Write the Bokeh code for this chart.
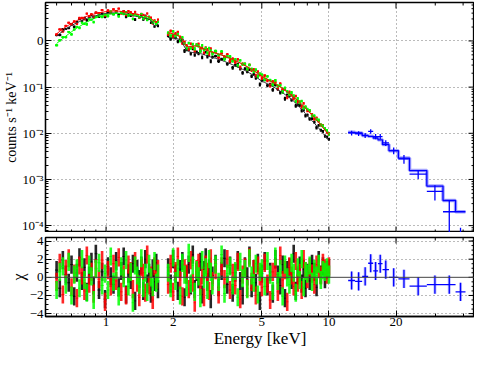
import numpy as np
from bokeh.plotting import figure
from bokeh.layouts import column
from bokeh.models import FixedTicker, Span, Range1d, BasicTickFormatter
from bokeh.embed import file_html
from bokeh.resources import INLINE

# ---------------- data ----------------
energy_low = [0.60, 0.62, 0.64, 0.66, 0.68, 0.70, 0.72, 0.74, 0.76, 0.78, 0.80, 0.82, 0.84, 0.86, 0.88,
              0.90, 0.93, 0.96, 0.99, 1.02, 1.05, 1.08, 1.11, 1.14, 1.17, 1.20, 1.23, 1.26, 1.29, 1.32,
              1.35, 1.38, 1.41, 1.44, 1.47, 1.50, 1.53, 1.56, 1.59, 1.62, 1.65, 1.68, 1.71]
energy_high = [1.90, 1.95, 2.00, 2.05, 2.10, 2.15, 2.20, 2.25, 2.30, 2.35, 2.40, 2.45, 2.50, 2.55, 2.60,
               2.65, 2.70, 2.75, 2.80, 2.85, 2.90, 2.95, 3.00,
               3.1, 3.2, 3.3, 3.4, 3.5, 3.6, 3.7, 3.8, 3.9, 4.0, 4.1, 4.2, 4.3, 4.4, 4.5, 4.6, 4.7, 4.8, 4.9, 5.0,
               5.15, 5.3, 5.45, 5.6, 5.75, 5.9, 6.05, 6.2, 6.35, 6.5, 6.65, 6.8, 6.95, 7.1, 7.25, 7.4, 7.55,
               7.7, 7.85, 8.0,
               8.2, 8.4, 8.6, 8.8, 9.0, 9.2, 9.4, 9.6, 9.8, 10.0]

black_model_low = [1.28, 1.45, 1.62, 1.80, 1.97, 2.15, 2.32, 2.48, 2.63, 2.78, 2.95, 3.08, 3.20, 3.32, 3.42,
                   3.52, 3.66, 3.78, 3.88, 3.95, 4.00, 4.02, 4.02, 3.98, 3.92, 3.85, 3.76, 3.68, 3.60, 3.52,
                   3.45, 3.38, 3.32, 3.26, 3.20, 3.14, 3.06, 2.96, 2.78, 2.45, 2.12, 2.12, 2.30]
red_model_low = [1.42, 1.62, 1.82, 2.02, 2.20, 2.40, 2.58, 2.76, 2.93, 3.10, 3.28, 3.42, 3.56, 3.68, 3.80,
                 3.90, 4.05, 4.18, 4.28, 4.36, 4.42, 4.45, 4.45, 4.42, 4.36, 4.28, 4.20, 4.10, 4.02, 3.94,
                 3.86, 3.78, 3.70, 3.63, 3.56, 3.50, 3.42, 3.32, 3.15, 2.85, 2.60, 2.60, 2.75]
green_model_low = [0.88, 1.00, 1.13, 1.27, 1.42, 1.58, 1.74, 1.90, 2.06, 2.22, 2.40, 2.56, 2.72, 2.88, 3.02,
                   3.15, 3.35, 3.52, 3.66, 3.76, 3.84, 3.90, 3.92, 3.92, 3.90, 3.86, 3.80, 3.74, 3.68, 3.62,
                   3.56, 3.50, 3.44, 3.38, 3.32, 3.26, 3.18, 3.08, 2.92, 2.66, 2.42, 2.40, 2.52]

black_model_high = [1.19, 1.17, 1.15, 1.13, 1.11, 1.06, 0.92, 0.74, 0.63, 0.59, 0.57, 0.56, 0.555, 0.55, 0.54,
                    0.53, 0.52, 0.505, 0.49, 0.475, 0.46, 0.45, 0.44,
                    0.42, 0.40, 0.38, 0.36, 0.34, 0.322, 0.305, 0.288, 0.272, 0.257, 0.243, 0.229, 0.215, 0.202,
                    0.19, 0.178, 0.166, 0.155, 0.144, 0.134,
                    0.126, 0.118, 0.110, 0.102, 0.0955, 0.088, 0.0817, 0.0759, 0.0692, 0.0638, 0.0589, 0.0537,
                    0.0494, 0.0447, 0.0407, 0.0363, 0.0327, 0.0295, 0.0266, 0.024,
                    0.0211, 0.0186, 0.0166, 0.0146, 0.0129, 0.0114, 0.0100, 0.0089, 0.00785, 0.0069]
red_model_high = [1.50, 1.47, 1.42, 1.37, 1.32, 1.24, 1.08, 0.88, 0.77, 0.75, 0.755, 0.77, 0.78, 0.775, 0.765,
                  0.735, 0.70, 0.665, 0.64, 0.62, 0.60, 0.585, 0.57,
                  0.545, 0.518, 0.492, 0.467, 0.442, 0.418, 0.395, 0.373, 0.352, 0.332, 0.312, 0.293, 0.275,
                  0.258, 0.242, 0.226, 0.211, 0.197, 0.184, 0.171,
                  0.158, 0.147, 0.136, 0.126, 0.117, 0.108, 0.100, 0.0925, 0.085, 0.078, 0.072, 0.0663,
                  0.061, 0.0557, 0.0508, 0.0463, 0.0421, 0.0382, 0.0347, 0.0315,
                  0.0279, 0.0247, 0.0219, 0.0193, 0.017, 0.015, 0.0132, 0.0117, 0.0103, 0.0091]
green_model_high = [1.45, 1.42, 1.38, 1.34, 1.29, 1.22, 1.06, 0.86, 0.76, 0.74, 0.75, 0.77, 0.78, 0.78, 0.77,
                    0.74, 0.70, 0.665, 0.64, 0.62, 0.60, 0.585, 0.57,
                    0.545, 0.52, 0.495, 0.47, 0.445, 0.42, 0.398, 0.376, 0.355, 0.335, 0.315, 0.296, 0.278,
                    0.26, 0.244, 0.228, 0.213, 0.199, 0.186, 0.173,
                    0.160, 0.149, 0.138, 0.128, 0.119, 0.110, 0.102, 0.0945, 0.087, 0.080, 0.0738, 0.068,
                    0.0625, 0.057, 0.052, 0.0473, 0.043, 0.039, 0.0355, 0.0322,
                    0.0285, 0.0252, 0.0223, 0.0197, 0.0174, 0.0154, 0.0136, 0.0120, 0.0106, 0.0093]

black_chi_low = [0.8, -1.2, 1.9, 0.3, -0.6, 1.4, -2.1, 0.5, 2.2, -0.4, 1.1, -1.6, 0.2, 1.7, -0.9, 2.6, -1.4,
                 0.6, -2.4, 1.2, 0.1, -0.8, 1.8, -1.1, 0.7, 2.3, -1.9, 0.4, -0.3, 1.5, -2.6, 0.9, -0.2, 1.3,
                 -1.5, 2.0, -0.7, 0.5, -1.8, 1.0, -0.5, 1.6, -1.3]
red_chi_low = [-0.5, 1.6, -1.9, 0.9, 2.1, -1.1, 0.4, -2.3, 1.3, 0.2, -1.5, 2.4, -0.7, 0.6, -1.8, 1.0, -0.2,
               1.9, -2.7, 0.8, -1.0, 1.5, -0.4, 2.2, -1.6, 0.3, -2.0, 1.4, 0.7, -1.3, 1.8, -0.6, -2.2, 1.1,
               0.5, -1.7, 2.5, -0.9, 0.2, -2.5, 1.2, -0.3, 0.9]
green_chi_low = [-1.4, 0.6, 1.2, -0.8, 1.7, -2.0, 0.3, 1.0, -1.2, 2.0, -0.3, -1.7, 1.4, 0.1, -2.5, 0.9, 1.6,
                 -0.9, 0.4, -1.4, 2.3, -0.5, 0.8, -2.1, 1.2, -0.1, 1.9, -1.0, 0.6, -2.8, 1.3, 0.2, -0.8, 2.1,
                 -1.2, 0.5, -1.6, 1.5, 0.0, -1.1, 1.8, -0.6, 0.4]

black_chi_high = [1.1, -0.7, 2.0, 0.4, -1.5, 0.9, 1.8, -2.2, 0.3, 1.4, -0.9, 2.5, -1.3, 0.6, -0.2, 1.7, -1.9,
                  0.8, 2.2, -0.5, 1.0, -2.4, 0.2,
                  1.5, -1.1, 0.7, 2.1, -0.8, 1.3, -1.7, 0.5, 1.9, -0.4, -2.0, 1.2, 0.1, 2.4, -1.2, 0.9, -0.6,
                  1.6, -2.6, 0.4,
                  1.8, -1.0, 0.6, -1.8, 2.0, 0.3, -0.9, 1.4, -2.3, 0.8, 1.1, -0.3, 2.6, -1.5, 0.2, 1.3, -0.7,
                  0.9, -1.2, 0.5,
                  -0.4, 1.5, 0.6, -1.1, 1.9, 0.3, 1.2, -0.2, 0.8, 1.0]
red_chi_high = [-0.8, 1.5, -1.6, 0.7, 2.3, -0.3, -2.1, 1.0, 0.4, -1.3, 1.9, -0.6, -2.8, 0.9, 1.6, -1.0, 0.2,
                -2.2, 1.4, 0.6, -1.5, 2.1, -0.4,
                0.8, -1.9, 1.2, -0.2, 2.0, -1.4, 0.5, -0.9, 1.7, -2.4, 0.3, 1.1, -1.2, 2.2, -0.5, 0.9, -2.0,
                1.3, 0.1, -1.1,
                1.6, -0.7, -2.5, 0.6, 1.0, -1.6, 2.4, -0.3, 0.8, -2.7, 1.2, 0.2, -1.0, 1.8, -0.6, 0.5, -1.4,
                2.0, 0.7, -0.2,
                1.1, 0.4, -0.8, 1.4, 0.9, 0.2, 1.6, 1.0, 0.3, 1.2]
green_chi_high = [0.5, -1.2, 2.2, -0.4, 1.0, -2.0, 1.6, 0.3, -1.1, 2.7, -0.7, 1.3, -1.6, 0.8, 0.1, -2.3, 1.9,
                  -0.2, 1.1, -1.4, 2.0, 0.6, -0.9,
                  1.4, -0.5, 2.5, -1.8, 0.4, 1.2, -0.9, 0.7, -2.2, 1.7, -0.1, 0.9, -1.3, 2.1, 0.2, -0.6, 1.5,
                  -1.9, 0.6, 1.0,
                  -1.0, 1.8, 0.3, -1.5, 2.3, -0.4, 0.9, -2.1, 1.4, 0.0, -0.8, 1.6, 0.5, -1.7, 1.1, -0.3, 2.0,
                  -1.1, 0.7, 0.4,
                  1.3, -0.5, 0.9, 0.2, 1.5, -0.3, 0.8, 0.6, 1.1, 0.3]

blue_edges = [12.2, 13.1, 14.1, 15.0, 15.8, 16.6, 17.4, 18.6, 20.5, 23.0, 27.5, 32.5, 37.0, 41.0]
blue_flux = [0.0102, 0.0099, 0.0090, 0.0110, 0.0085, 0.0085, 0.0062, 0.0042, 0.0028, 0.0013, 0.00055,
             0.00020, 0.00003]
blue_sigma = [0.0012, 0.0012, 0.0011, 0.0012, 0.0011, 0.0011, 0.0009, 0.0007, 0.0006, 0.00028, 0.0002,
              0.00015, 0.00006]
blue_model = [0.0105, 0.0102, 0.0089, 0.0086, 0.0079, 0.0072, 0.0057, 0.0042, 0.0029, 0.00156, 0.00072,
              0.00035, 0.00020]
blue_chi = [-0.35, -0.45, 0.1, 1.55, 0.7, 1.5, 0.85, 0.0, -0.17, -0.97, -0.8, -0.8, -1.6]

x_major = [1, 2, 5, 10, 20]
x_labels = ["1", "2", "5", "10", "20"]
x_minor = [0.6, 0.7, 0.8, 0.9, 3, 4, 6, 7, 8, 9, 30, 40]
y_major = [1e-4, 1e-3, 1e-2, 1e-1, 1.0]
y_labels = ["10\u207b\u2074", "10\u207b\u00b3", "10\u207b\u00b2", "10\u207b\u00b9", "0"]
chi_major = [-4, -2, 0, 2, 4]
chi_labels = ["\u22124", "\u22122", "0", "2", "4"]

# ---------------- style ----------------
FONT = "Liberation Serif"
W = 474
H_TOP = 232
H_BOT = 118
LEFT = 36
X_RANGE = (0.535, 45.0)
Y_RANGE_TOP = (7.1e-5, 6.8)
Y_RANGE_BOT = (-4.32, 4.39)
FRAC_LOW = 0.06
FRAC_HIGH = 0.08

y_minor = [m * 10.0 ** k for k in range(-5, 1) for m in range(2, 10)
           if Y_RANGE_TOP[0] < m * 10.0 ** k < Y_RANGE_TOP[1]]
chi_minor = [v / 2 for v in range(-8, 9)]


def bin_bounds(e):
    e = np.asarray(e, float)
    mid = np.sqrt(e[:-1] * e[1:])
    lo = np.concatenate([[e[0] ** 2 / mid[0]], mid])
    hi = np.concatenate([mid, [e[-1] ** 2 / mid[-1]]])
    return lo, hi


def style_axis(ax):
    ax.axis_line_color = "black"
    ax.axis_line_width = 1.3
    ax.major_tick_line_color = "black"
    ax.minor_tick_line_color = "black"
    ax.major_tick_in = 6
    ax.major_tick_out = 0
    ax.minor_tick_in = 3
    ax.minor_tick_out = 0
    ax.major_label_text_font = FONT
    ax.major_label_text_color = "black"
    ax.major_label_text_font_size = "13px"
    ax.major_label_standoff = 2
    ax.axis_label_text_font = FONT
    ax.axis_label_text_font_style = "normal"
    ax.axis_label_text_color = "black"
    ax.axis_label_standoff = 0


def style_grid(g):
    g.grid_line_color = "#777777"
    g.grid_line_dash = "1 3"
    g.grid_line_width = 1


def edge_ticks(p, values, fixed, vertical, size):
    # tick marks on the frame edge (half of each dash is clipped by the frame)
    if vertical:
        p.scatter(x=values, y=[fixed] * len(values), marker="dash", angle=np.pi / 2,
                  size=size, line_color="black", line_width=1)
    else:
        p.scatter(x=[fixed] * len(values), y=values, marker="dash", angle=0,
                  size=size, line_color="black", line_width=1)


# ---------------- top panel ----------------
top = figure(width=W, height=H_TOP, x_axis_type="log", y_axis_type="log", x_axis_location=None,
             x_range=Range1d(*X_RANGE), y_range=Range1d(*Y_RANGE_TOP),
             output_backend="svg", toolbar_location=None,
             min_border_left=LEFT, min_border_right=0, min_border_top=2, min_border_bottom=0)
top.outline_line_color = "black"
top.outline_line_width = 1.3
top.background_fill_color = "white"
top.border_fill_color = "white"
top.yaxis.ticker = FixedTicker(ticks=y_major, minor_ticks=y_minor)
top.yaxis.major_label_overrides = dict(zip(y_major, y_labels))
top.yaxis.axis_label = "counts s\u207b\u00b9 keV\u207b\u00b9"
for ax in top.yaxis:
    style_axis(ax)
top.yaxis.axis_label_text_font_size = "14px"
top.xgrid.ticker = FixedTicker(ticks=x_major)
top.ygrid.ticker = FixedTicker(ticks=y_major)
style_grid(top.xgrid[0])
style_grid(top.ygrid[0])

# ---------------- bottom panel ----------------
bot = figure(width=W, height=H_BOT, x_axis_type="log",
             x_range=top.x_range, y_range=Range1d(*Y_RANGE_BOT),
             output_backend="svg", toolbar_location=None,
             min_border_left=LEFT, min_border_right=0, min_border_top=5, min_border_bottom=0)
bot.outline_line_color = "black"
bot.outline_line_width = 1.3
bot.background_fill_color = "white"
bot.border_fill_color = "white"
bot.xaxis.ticker = FixedTicker(ticks=x_major, minor_ticks=x_minor)
bot.xaxis.formatter = BasicTickFormatter()
bot.xaxis.major_label_overrides = dict(zip(x_major, x_labels))
bot.xaxis.axis_label = "Energy [keV]"
bot.yaxis.ticker = FixedTicker(ticks=chi_major, minor_ticks=chi_minor)
bot.yaxis.major_label_overrides = dict(zip(chi_major, chi_labels))
bot.yaxis.axis_label = "\u03c7"
for ax in list(bot.xaxis) + list(bot.yaxis):
    style_axis(ax)
bot.xaxis.major_label_standoff = 1
bot.xaxis.axis_label_text_font_size = "17px"
bot.yaxis.axis_label_text_font_size = "16px"
bot.xgrid.ticker = FixedTicker(ticks=x_major)
bot.ygrid.ticker = FixedTicker(ticks=[-4, -2, 2, 4])
style_grid(bot.xgrid[0])
style_grid(bot.ygrid[0])
bot.add_layout(Span(location=0, dimension="width", line_color="#444444", line_width=1))

# ---------------- draw instruments ----------------
instruments = [
    ("black", black_model_low, black_model_high, black_chi_low, black_chi_high),
    ("#ff0000", red_model_low, red_model_high, red_chi_low, red_chi_high),
    ("#00ff00", green_model_low, green_model_high, green_chi_low, green_chi_high),
]
segments = [(energy_low, FRAC_LOW), (energy_high, FRAC_HIGH)]

for color, m_low, m_high, c_low, c_high in instruments:
    for (energies, frac), model, chi in zip(segments, (m_low, m_high), (c_low, c_high)):
        e = np.asarray(energies, float)
        m = np.asarray(model, float)
        c = np.asarray(chi, float)
        lo, hi = bin_bounds(e)
        d = m * (1 + frac * c)
        s = m * frac
        top.segment(x0=e, y0=d - s, x1=e, y1=d + s, line_color=color, line_width=2.0)
        top.segment(x0=lo, y0=d, x1=hi, y1=d, line_color=color, line_width=1.8)
        bot.segment(x0=e, y0=c - 1, x1=e, y1=c + 1, line_color=color, line_width=2.6, line_alpha=0.85)
        bot.segment(x0=lo, y0=c, x1=hi, y1=c, line_color=color, line_width=1.0, line_alpha=0.85)

for idx in (0, 2, 1):
    color, m_low, m_high, _, _ = instruments[idx]
    for (energies, frac), model in zip(segments, (m_low, m_high)):
        top.line(energies, model, line_color=color if idx else "#333333", line_width=1.0)

# blue instrument
be = np.asarray(blue_edges, float)
blo, bhi = be[:-1], be[1:]
bc = np.sqrt(blo * bhi)
bf = np.asarray(blue_flux, float)
bs = np.asarray(blue_sigma, float)
bchi = np.asarray(blue_chi, float)
step_x, step_y = [], []
for i, mv in enumerate(blue_model):
    step_x += [blue_edges[i], blue_edges[i + 1]]
    step_y += [mv, mv]
top.line(step_x, step_y, line_color="#8080ff", line_width=3.5, line_alpha=0.7)
top.line(step_x, step_y, line_color="#0000ff", line_width=1.3)
top.segment(x0=bc, y0=np.maximum(bf - bs, 1e-7), x1=bc, y1=bf + bs, line_color="#0000ff", line_width=1.3)
top.segment(x0=blo, y0=bf, x1=bhi, y1=bf, line_color="#0000ff", line_width=1.3)
bot.segment(x0=bc, y0=bchi - 1, x1=bc, y1=bchi + 1, line_color="#8080ff", line_width=3, line_alpha=0.5)
bot.segment(x0=bc, y0=bchi - 1, x1=bc, y1=bchi + 1, line_color="#0000ff", line_width=1.3)
bot.segment(x0=blo, y0=bchi, x1=bhi, y1=bchi, line_color="#0000ff", line_width=1.3)

# mirrored tick marks on the frame edges
for p, ylo, yhi in ((top, Y_RANGE_TOP[0], Y_RANGE_TOP[1]), (bot, Y_RANGE_BOT[0], Y_RANGE_BOT[1])):
    edge_ticks(p, x_major, yhi, True, 12)
    edge_ticks(p, x_minor, yhi, True, 6)
edge_ticks(top, x_major, Y_RANGE_TOP[0], True, 12)
edge_ticks(top, x_minor, Y_RANGE_TOP[0], True, 6)
edge_ticks(top, y_major, X_RANGE[1], False, 12)
edge_ticks(top, y_minor, X_RANGE[1], False, 6)
edge_ticks(bot, chi_major, X_RANGE[1], False, 12)
edge_ticks(bot, chi_minor, X_RANGE[1], False, 6)

layout = column(top, bot)
open("out.html", "w").write(file_html(layout, INLINE))
